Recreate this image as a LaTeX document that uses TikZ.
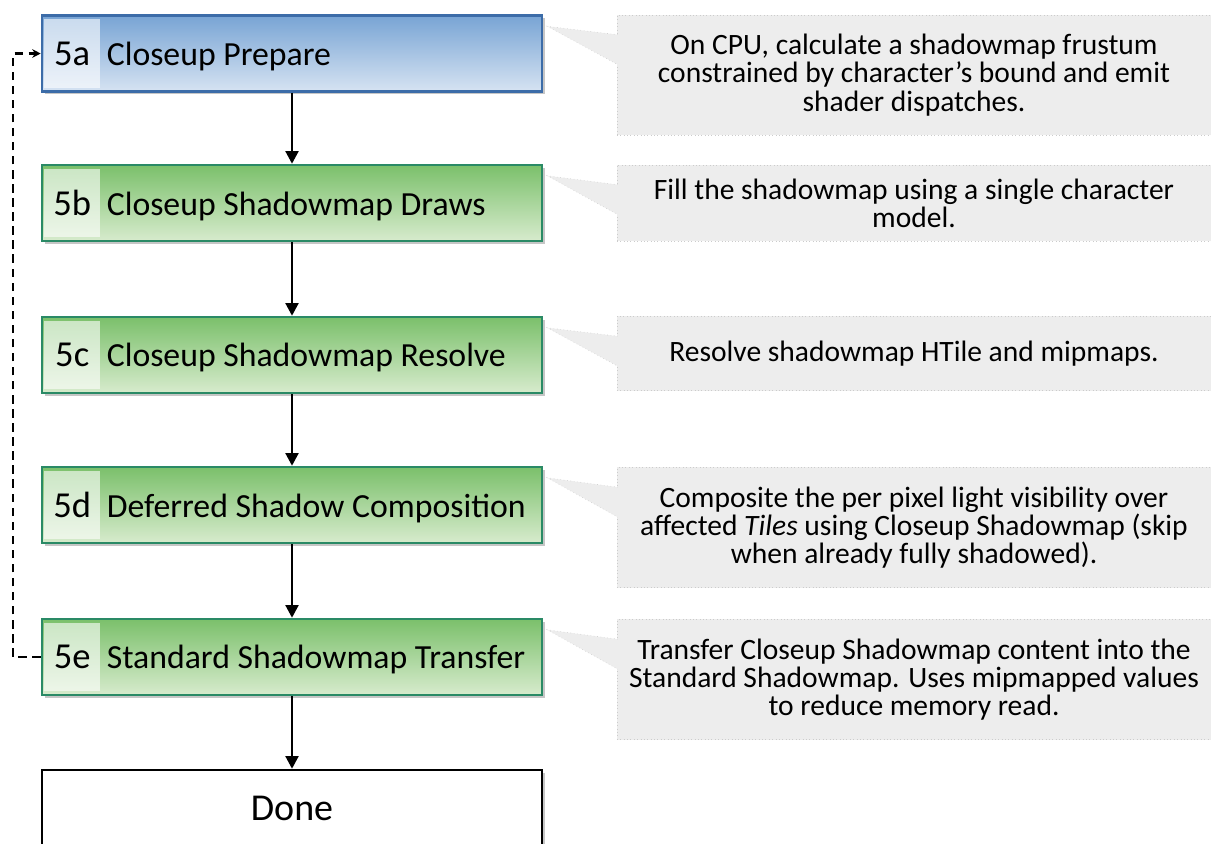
\documentclass[tikz,border=0pt]{standalone}
\usepackage{fontspec}
\setmainfont{Carlito}
\usetikzlibrary{positioning,arrows.meta,shadows}
\definecolor{blueTop}{HTML}{78A4D4}
\definecolor{blueBot}{HTML}{D6E3F2}
\definecolor{blueEdge}{HTML}{3C6CA8}
\definecolor{greenTop}{HTML}{7BC06B}
\definecolor{greenBot}{HTML}{D7EBCD}
\definecolor{greenEdge}{HTML}{2A8A66}
\definecolor{noteGray}{HTML}{EDEDED}
\begin{document}
\begin{tikzpicture}[x=0.025cm, y=-0.025cm,
    stepbox/.style={rectangle, draw, line width=1.7pt, minimum width=12.5cm, minimum height=1.9cm,
      drop shadow={shadow xshift=2pt, shadow yshift=-2pt, opacity=0.45}},
    bluebox/.style={stepbox, draw=blueEdge, top color=blueTop, bottom color=blueBot},
    greenbox/.style={stepbox, draw=greenEdge, top color=greenTop, bottom color=greenBot},
    donebox/.style={stepbox, draw=black, fill=white, font=\fontsize{27}{32}\selectfont},
    tagbox/.style={rectangle, fill=white, fill opacity=0.6, text opacity=1, inner sep=0pt,
      minimum width=1.4cm, minimum height=1.7cm, font=\fontsize{26}{30}\selectfont},
    steptext/.style={inner sep=0pt, anchor=base west, font=\fontsize{24}{29}\selectfont},
    notebox/.style={rectangle, fill=noteGray, draw=gray!40, dotted, minimum width=14.85cm,
      align=center, font=\fontsize{21}{20}\selectfont},
    flow/.style={-{Triangle[length=9pt,width=9pt]}, line width=2pt},
    loopback/.style={dash pattern=on 6pt off 4pt, line width=2pt, -{Stealth[length=6pt,width=6pt]}}]
  \useasboundingbox (0,0) rectangle (1211,843);
  \clip (0,0) rectangle (1211,843);

  % steps
  \node[bluebox] (s5a) at (292,53.5) {};
  \node[greenbox] (s5b) at (292,203) {};
  \node[greenbox] (s5c) at (292,355) {};
  \node[greenbox] (s5d) at (292,505) {};
  \node[greenbox] (s5e) at (292,657) {};
  \node[donebox] (done) at (292,808) {Done};

  \foreach \step/\name in {5a/Closeup Prepare, 5b/Closeup Shadowmap Draws, 5c/Closeup Shadowmap Resolve,
      5d/Deferred Shadow Composition, 5e/Standard Shadowmap Transfer} {
    \node[tagbox, anchor=west] (t\step) at ([xshift=0.08cm]s\step.west) {\step};
    \node[steptext] (l\step) at ([xshift=0.15cm]t\step.base east) {\name};
  }

  % notes
  \node[notebox, minimum height=3cm] (n5a) at (914,75)
    {On CPU, calculate a shadowmap frustum\\constrained by character’s bound and emit\\shader dispatches.};
  \node[notebox, minimum height=1.9cm] (n5b) at (914,203)
    {Fill the shadowmap using a single character\\model.};
  \node[notebox, minimum height=1.85cm] (n5c) at (914,353.5)
    {Resolve shadowmap HTile and mipmaps.};
  \node[notebox, minimum height=3cm] (n5d) at (914,527.5)
    {Composite the per pixel light visibility over\\affected \textit{Tiles} using Closeup Shadowmap (skip\\when already fully shadowed).};
  \node[notebox, minimum height=3cm] (n5e) at (914,679.5)
    {Transfer Closeup Shadowmap content into the\\Standard Shadowmap. Uses mipmapped values\\to reduce memory read.};

  \foreach \step in {5a,5b,5c,5d,5e} {
    \coordinate (tip\step) at ([shift={(0.1cm,-0.3cm)}]s\step.north east);
    \coordinate (up\step) at ([shift={(0.03cm,-0.5cm)}]n\step.north west);
    \coordinate (lo\step) at ([shift={(0.03cm,-1.25cm)}]n\step.north west);
    \fill[noteGray] (tip\step) -- (up\step) -- (lo\step) -- cycle;
    \draw[gray!40, dotted] (up\step) -- (tip\step) -- (lo\step);
  }

  % connectors
  \foreach \a/\b in {s5a/s5b, s5b/s5c, s5c/s5d, s5d/s5e, s5e/done}
    \draw[flow] (\a) -- (\b);
  \coordinate (back) at (13,350);
  \draw[loopback] (s5e.west) -| (back) |- (s5a.west);
\end{tikzpicture}
\end{document}
